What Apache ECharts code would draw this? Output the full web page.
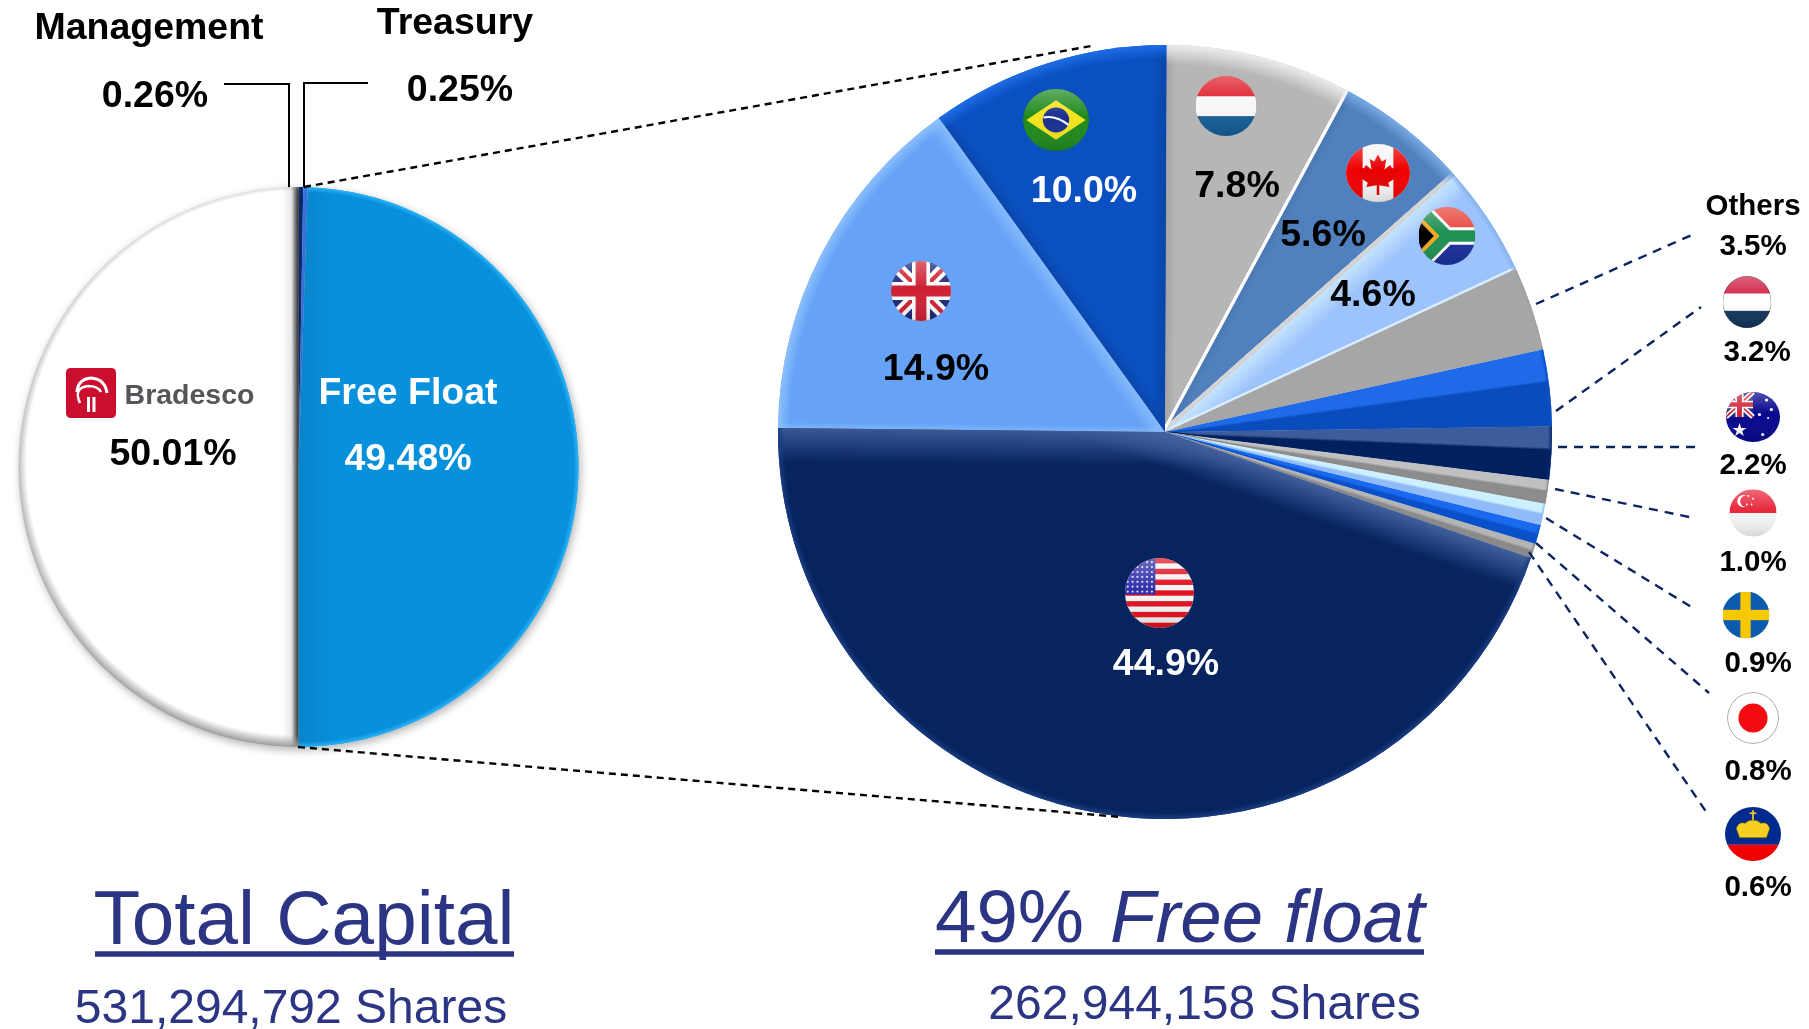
<!DOCTYPE html>
<html>
<head>
<meta charset="utf-8">
<title>Bradesco shareholders</title>
<script src="https://cdn.jsdelivr.net/npm/echarts@6/dist/echarts.min.js"></script>
<style>
  html, body { margin: 0; background: #fff; }
  #chart { width: 1809px; height: 1029px; }
</style>
</head>
<body>
<div id="chart"></div>
<script>
// total capital
const capitalNames = ['Bradesco', 'Management', 'Treasury', 'Free Float'];
const capitalShares = [50.01, 0.26, 0.25, 49.48];

// free float by country
const floatNames = ['United Kingdom', 'Brazil', 'Netherlands', 'Canada', 'South Africa', 'Others',
  'Luxembourg', 'Australia', 'Singapore', 'Sweden', 'Japan', 'Liechtenstein', 'United States'];
const floatShares = [14.9, 10.0, 7.8, 5.6, 4.6, 3.5, 3.2, 2.2, 1.0, 0.9, 0.8, 0.6, 44.9];

const titles = ['Total Capital', '49% ', 'Free float'];
const shareCounts = ['531,294,792 Shares', '262,944,158 Shares'];

// layout, px
const LEFT = { cx: 298.5, cy: 467, r: 280, start: 270 };
const RIGHT = { cx: 1165, cy: 432, r: 387, start: 179.4 };
const FONT = '"Liberation Sans", Arial, sans-serif';
const NAVY = '#2b3583';

const capitalLabelPos = [[173, 455], [155, 97], [460, 91], [408, 427]];
const floatLabelPos = [[936, 370], [1084, 192], [1237, 187], [1323, 236], [1373, 296], [1753, 247],
  [1757, 353], [1753, 466], [1753, 563], [1758, 664], [1758, 772], [1758, 888], [1166, 665]];

// base, start band, band width (0 = wedge), rim, rim width, end band, end width
const floatStyles = [
  { base: '#66a3f7', band: '#7db4fa', w: 6, rim: '#8cc0fc', rw: 12, end: '#8abcfc', ew: 16 },
  { base: '#0a50c0', band: '#0a46ac', w: 12, rim: '#1d6ce6', rw: 14, end: '#0a44a6', ew: 14 },
  { base: '#b6b6b6', band: '#a4a4a4', w: 10, rim: '#ececec', rw: 20, end: '#ffffff', ew: 3 },
  { base: '#5080bd', band: '#4a78b4', w: 8, rim: '#78aae6', rw: 14, end: '#d4d4d4', ew: 4 },
  { base: '#9cc3fb', band: '#c6e4ff', w: 22, rim: '#86b2ec', rw: 6, end: '#d8eeff', ew: 2 },
  { base: '#a6a6a6', band: '#a6a6a6', w: 2, rim: '#a0a0a0', rw: 3, end: '#a6a6a6', ew: 1 },
  { base: '#0a4cbc', band: '#1e6ae8', w: 0, rim: '#0b50c6', rw: 4, end: '#0a4cbc', ew: 1 },
  { base: '#00205f', band: '#3d5c9b', w: 0, rim: '#06296e', rw: 4, end: '#00205f', ew: 1 },
  { base: '#8c8c8c', band: '#c0c0c0', w: 0, rim: '#8c8c8c', rw: 3, end: '#8c8c8c', ew: 1 },
  { base: '#90bbf8', band: '#ccf0ff', w: 0, rim: '#90bbf8', rw: 3, end: '#90bbf8', ew: 1 },
  { base: '#0a50c8', band: '#1a6af0', w: 0, rim: '#0a50c8', rw: 3, end: '#0a50c8', ew: 1 },
  { base: '#8a8a8a', band: '#b4b4b4', w: 0, rim: '#8a8a8a', rw: 3, end: '#8a8a8a', ew: 1 },
  { base: '#07245f', band: '#42609e', w: 34, rim: '#1a3d82', rw: 6, end: '#42609e', ew: 34 }
];
const floatLabelColors = ['#000', '#fff', '#000', '#000', '#000', '#000', '#000', '#000', '#000', '#000', '#000', '#000', '#fff'];
const floatLabelSizes = [37.5, 37.5, 37.5, 37.5, 37.5, 29.5, 29.5, 29.5, 29.5, 29.5, 29.5, 29.5, 37.5];

const hexA = (hex, a) => {
  const n = parseInt(hex.slice(1), 16);
  return `rgba(${n >> 16},${(n >> 8) & 255},${n & 255},${a})`;
};

// linear gradient running across a slice edge, in page coordinates
const edgeGradient = (p, theta, sign, stops) => {
  const nx = -Math.sin(theta) * sign, ny = Math.cos(theta) * sign;
  return {
    type: 'linear', global: true,
    x: p.cx, y: p.cy, x2: p.cx + nx * p.r, y2: p.cy + ny * p.r,
    colorStops: stops
  };
};

// slice angles in screen radians (clockwise from +x)
const sliceAngles = (values, start) => {
  const total = values.reduce((a, b) => a + b, 0);
  let t = -start * Math.PI / 180;
  return values.map(v => {
    const a = t, sweep = v / total * Math.PI * 2;
    t += sweep;
    return { a, sweep, b: t };
  });
};

const floatAngles = sliceAngles(floatShares, RIGHT.start);

const floatBase = (i) => {
  const s = floatStyles[i], g = floatAngles[i];
  if (s.w === 0) {
    // narrow slice: the band is a wedge up to a ray through the centre
    const phi = g.a + g.sweep * 0.4;
    const nx = -Math.sin(phi), ny = Math.cos(phi);
    return {
      type: 'linear', global: true,
      x: RIGHT.cx - nx * RIGHT.r, y: RIGHT.cy - ny * RIGHT.r,
      x2: RIGHT.cx + nx * RIGHT.r, y2: RIGHT.cy + ny * RIGHT.r,
      colorStops: [
        { offset: 0, color: s.band }, { offset: 0.5, color: s.band },
        { offset: 0.503, color: s.base }, { offset: 1, color: s.base }
      ]
    };
  }
  return edgeGradient(RIGHT, g.a, 1, [
    { offset: 0, color: s.band }, { offset: s.w / RIGHT.r, color: s.base }, { offset: 1, color: s.base }
  ]);
};

const floatEnd = (i) => {
  const s = floatStyles[i], g = floatAngles[i];
  const hard = s.ew <= 4;
  return edgeGradient(RIGHT, g.b, -1, [
    { offset: 0, color: s.end },
    { offset: hard ? s.ew / RIGHT.r : 0.002, color: hard ? s.end : hexA(s.end, 0.85) },
    { offset: (s.ew + (hard ? 0.5 : 0)) / RIGHT.r, color: hexA(s.end, 0) },
    { offset: 1, color: hexA(s.end, 0) }
  ]);
};

// soft rim; lift moves the gradient centre up so the rim is heavier at the bottom
const rimGradient = (p, color, width, lift = 0) => ({
  type: 'radial', global: true, x: p.cx, y: p.cy - lift, r: p.r + lift,
  colorStops: [
    { offset: 0, color: hexA(color, 0) },
    { offset: 1 - width / (p.r + lift), color: hexA(color, 0) },
    { offset: 1, color: color }
  ]
});

// left pie colours
const capitalFills = [
  {
    type: 'linear', global: true, x: LEFT.cx - 16, y: 0, x2: LEFT.cx, y2: 0,
    colorStops: [
      { offset: 0, color: '#ffffff' }, { offset: 0.55, color: '#e8e8e8' },
      { offset: 0.8, color: '#808080' }, { offset: 1, color: '#333333' }
    ]
  },
  '#0d2a6e', '#3a78e6',
  {
    type: 'linear', global: true, x: LEFT.cx, y: 0, x2: LEFT.cx + 40, y2: 0,
    colorStops: [{ offset: 0, color: '#0a84cc' }, { offset: 1, color: '#0790dc' }]
  }
];
const capitalRims = [
  rimGradient(LEFT, '#9a9a9a', 12, 4),
  'rgba(0,0,0,0)', 'rgba(0,0,0,0)',
  rimGradient(LEFT, '#2ab4f7', 5)
];
const capitalLabelColors = ['#000', '#000', '#000', '#fff'];

const capitalPie = {
  type: 'pie', center: [LEFT.cx, LEFT.cy], radius: LEFT.r, startAngle: LEFT.start,
  clockwise: true, silent: true, z: 2,
  label: { show: true, position: 'inside', fontFamily: FONT, fontWeight: 'bold', fontSize: 37.5 },
  labelLine: { show: false },
  labelLayout: (p) => ({
    x: capitalLabelPos[p.dataIndex][0], y: capitalLabelPos[p.dataIndex][1],
    align: 'center', verticalAlign: 'middle'
  }),
  data: capitalNames.map((name, i) => ({
    name,
    value: capitalShares[i],
    itemStyle: { color: capitalFills[i], shadowBlur: 8, shadowColor: 'rgba(0,0,0,0.3)', shadowOffsetX: 2, shadowOffsetY: 3 },
    label: {
      color: capitalLabelColors[i],
      lineHeight: 66,
      formatter: name === 'Free Float' ? '{b}\n{c}%' : '{c}%'
    }
  }))
};

const capitalRimPie = {
  type: 'pie', center: [LEFT.cx, LEFT.cy], radius: LEFT.r, startAngle: LEFT.start,
  silent: true, z: 3, label: { show: false }, labelLine: { show: false },
  data: capitalNames.map((name, i) => ({ name, value: capitalShares[i], itemStyle: { color: capitalRims[i] } }))
};

const floatPie = {
  type: 'pie', center: [RIGHT.cx, RIGHT.cy], radius: RIGHT.r, startAngle: RIGHT.start,
  clockwise: true, silent: true, z: 2,
  label: { show: true, position: 'inside', fontFamily: FONT, fontWeight: 'bold', formatter: (p) => p.value.toFixed(1) + '%' },
  labelLine: { show: false },
  labelLayout: (p) => ({
    x: floatLabelPos[p.dataIndex][0], y: floatLabelPos[p.dataIndex][1],
    align: 'center', verticalAlign: 'middle'
  }),
  data: floatNames.map((name, i) => ({
    name,
    value: floatShares[i],
    itemStyle: { color: floatBase(i) },
    label: { color: floatLabelColors[i], fontSize: floatLabelSizes[i] }
  }))
};

// end edge and rim highlights sit on top of the base slices
const overlayPie = (z, colorOf) => ({
  type: 'pie', center: [RIGHT.cx, RIGHT.cy], radius: RIGHT.r, startAngle: RIGHT.start,
  silent: true, z, label: { show: false }, labelLine: { show: false },
  data: floatNames.map((name, i) => ({ name, value: floatShares[i], itemStyle: { color: colorOf(i) } }))
});

// flags, drawn as small inline svg
const flagUrl = (body, gloss = true) => 'data:image/svg+xml,' + encodeURIComponent(
  `<svg xmlns="http://www.w3.org/2000/svg" viewBox="0 0 100 100"><defs><clipPath id="c"><circle cx="50" cy="50" r="50"/></clipPath>` +
  `<linearGradient id="g" x1="0" y1="0" x2="0" y2="1"><stop offset="0" stop-color="#fff" stop-opacity=".3"/><stop offset=".45" stop-color="#fff" stop-opacity="0"/>` +
  `<stop offset="1" stop-color="#000" stop-opacity=".12"/></linearGradient></defs><g clip-path="url(#c)">${body}` +
  (gloss ? '<rect width="100" height="100" fill="url(#g)"/>' : '') + '</g></svg>');

const stripes = (a, b, c) => `<rect width="100" height="34" fill="${a}"/><rect y="34" width="100" height="33" fill="${b}"/><rect y="67" width="100" height="33" fill="${c}"/>`;
const unionJack = (cx, cy, s) => `<g transform="translate(${cx} ${cy}) scale(${s})"><rect x="-50" y="-50" width="100" height="100" fill="#1d2a78"/>` +
  `<path d="M-50-50L50 50M50-50L-50 50" stroke="#fff" stroke-width="20"/><path d="M-50-50L50 50M50-50L-50 50" stroke="#cf2034" stroke-width="7"/>` +
  `<path d="M0-50V50M-50 0H50" stroke="#fff" stroke-width="30"/><path d="M0-50V50M-50 0H50" stroke="#cf2034" stroke-width="18"/></g>`;

let usStars = '<rect width="44" height="52" fill="#2f2fa8"/>';
for (let y = 6; y < 50; y += 7) for (let x = 4; x < 44; x += 7) usStars += `<circle cx="${x}" cy="${y}" r="1.6" fill="#d8d8ff"/>`;
let usStripes = '<rect width="100" height="100" fill="#f4f4f4"/>';
for (let y = 0; y < 100; y += 15.4) usStripes += `<rect y="${y}" width="100" height="7.7" fill="#e01020"/>`;

const flags = [
  { name: 'uk', x: 921, y: 291, rx: 30, ry: 30, svg: unionJack(50, 50, 1) },
  { name: 'brazil', x: 1056, y: 120, rx: 33, ry: 31,
    svg: '<rect width="100" height="100" fill="#1f8a1c"/><path d="M50 18L95 50L50 82L5 50Z" fill="#f4e31e"/><circle cx="50" cy="50" r="20" fill="#1a2f8f"/><path d="M31 46Q50 42 69 58" stroke="#fff" stroke-width="3" fill="none"/>' },
  { name: 'netherlands', x: 1226, y: 106, rx: 30.5, ry: 30, svg: stripes('#e0202c', '#f8f8f8', '#125d98') },
  { name: 'canada', x: 1378, y: 173, rx: 32, ry: 29,
    svg: '<rect width="100" height="100" fill="#f6f6f6"/><rect width="26" height="100" fill="#f00000"/><rect x="74" width="26" height="100" fill="#f00000"/>' +
      '<path d="M50 18L56 30L63 26L60 44L69 36L72 42L82 40L78 52L82 55L66 67L68 74L52 71V88H48V71L32 74L34 67L18 55L22 52L18 40L28 42L31 36L40 44L37 26L44 30Z" fill="#e60000"/>' },
  { name: 'southafrica', x: 1447, y: 236, rx: 28.5, ry: 29,
    svg: '<rect width="100" height="50" fill="#e8453c"/><rect y="50" width="100" height="50" fill="#1a2f9c"/><path d="M0 0L50 50L0 100Z" fill="#000"/>' +
      '<path d="M0 0L50 50L0 100M50 50H100" stroke="#fff" stroke-width="30" fill="none"/><path d="M0 0L50 50L0 100M50 50H100" stroke="#1f8f52" stroke-width="20" fill="none"/><path d="M0 18L32 50L0 82" stroke="#f0a81e" stroke-width="7" fill="none"/>' },
  { name: 'luxembourg', x: 1747, y: 302, rx: 24.5, ry: 26,
    svg: stripes('#cf2042', '#ffffff', '#12355c') + '<circle cx="50" cy="50" r="49.5" fill="none" stroke="#333" stroke-width="1"/>' },
  { name: 'australia', x: 1753, y: 417, rx: 27, ry: 25,
    svg: '<rect width="100" height="100" fill="#06068e"/>' + unionJack(25, 25, 0.5) +
      '<path d="M25 62L28 72L38 72L30 78L33 88L25 82L17 88L20 78L12 72L22 72Z" fill="#fff"/><circle cx="62" cy="45" r="3" fill="#fff"/><circle cx="84" cy="35" r="3" fill="#fff"/><circle cx="78" cy="52" r="2" fill="#fff"/><circle cx="75" cy="16" r="3" fill="#fff"/><circle cx="68" cy="85" r="3" fill="#fff"/>' },
  { name: 'singapore', x: 1753, y: 513, rx: 23.7, ry: 23.7,
    svg: '<rect width="100" height="50" fill="#e8283c"/><rect y="50" width="100" height="50" fill="#f4f4f4"/><circle cx="30" cy="25" r="13" fill="#fff"/><circle cx="35" cy="25" r="12" fill="#e8283c"/><circle cx="40" cy="14" r="2" fill="#fff"/><circle cx="50" cy="20" r="2" fill="#fff"/><circle cx="47" cy="32" r="2" fill="#fff"/><circle cx="37" cy="32" r="2" fill="#fff"/>' },
  { name: 'sweden', x: 1746, y: 615, rx: 23.5, ry: 23.5, gloss: false,
    svg: '<rect width="100" height="100" fill="#0a5bb0"/><rect x="38" width="22" height="100" fill="#f8c800"/><rect y="39" width="100" height="22" fill="#f8c800"/>' },
  { name: 'japan', x: 1753, y: 718, rx: 26, ry: 26, gloss: false,
    svg: '<circle cx="50" cy="50" r="49" fill="#fff" stroke="#8a8a8a" stroke-width="1.5"/><circle cx="50" cy="50" r="28" fill="#f40b10"/>' },
  { name: 'liechtenstein', x: 1753, y: 834, rx: 28, ry: 27, gloss: false,
    svg: '<rect width="100" height="70" fill="#002b8e"/><rect y="70" width="100" height="30" fill="#f00000"/>' +
      '<path d="M26 57L20 40Q24 26 36 30Q42 24 50 24Q58 24 64 30Q76 26 80 40L74 57Z" fill="#f6d020" stroke="#5a4800" stroke-width="1"/><rect x="48.5" y="6" width="3" height="18" fill="#f6d020"/><rect x="44" y="10" width="12" height="3" fill="#f6d020"/>' },
  { name: 'us', x: 1159.5, y: 593, rx: 34.5, ry: 35, svg: usStripes + usStars }
];

const logoUrl = 'data:image/svg+xml,' + encodeURIComponent(
  '<svg xmlns="http://www.w3.org/2000/svg" viewBox="0 0 100 100"><rect width="100" height="100" rx="9" fill="#cc0e2e"/>' +
  '<path d="M22 48Q24 22 50 20Q78 22 82 50" stroke="#fff" stroke-width="6" fill="none"/><path d="M28 70Q14 40 44 36Q64 36 70 48" stroke="#fff" stroke-width="5" fill="none"/>' +
  '<rect x="42" y="58" width="6" height="30" fill="#fff"/><rect x="53" y="58" width="6" height="30" fill="#fff"/></svg>');

const text = (str, x, y, size, opt = {}) => ({
  type: 'text', x, y, z: 20, silent: true,
  style: {
    text: str, fill: opt.fill || '#000', align: opt.align || 'center', verticalAlign: 'middle',
    font: `${opt.style || 'normal'} ${opt.weight || 'bold'} ${size}px ${FONT}`
  }
});

const line = (points, stroke, width, dash) => ({
  type: 'polyline', z: 15, silent: true,
  shape: { points },
  style: { stroke, lineWidth: width, lineDash: dash || null, fill: null }
});

const DARK_DASH = [7, 5];
const NAVY_DASH = [9, 7];

const graphicElements = [
  // leader lines of the left pie
  line([[224, 84], [289, 84], [289, 187]], '#000', 2),
  line([[368, 83], [304, 83], [304, 187]], '#000', 2),
  // zoom lines between the pies
  line([[304, 187], [1091, 46]], '#000', 2.4, DARK_DASH),
  line([[298, 747], [1121, 817]], '#000', 2.4, DARK_DASH),
  // country leader lines
  line([[1536, 304], [1694, 234]], '#0c2461', 2.4, NAVY_DASH),
  line([[1556, 411], [1701, 307]], '#0c2461', 2.4, NAVY_DASH),
  line([[1558, 447], [1695, 447]], '#0c2461', 2.4, NAVY_DASH),
  line([[1555, 489], [1694, 518]], '#0c2461', 2.4, NAVY_DASH),
  line([[1546, 518], [1693, 608]], '#0c2461', 2.4, NAVY_DASH),
  line([[1536, 543], [1709, 693]], '#0c2461', 2.4, NAVY_DASH),
  line([[1529, 552], [1707, 813]], '#0c2461', 2.4, NAVY_DASH),

  text(capitalNames[1], 149, 29, 37.5),
  text(capitalNames[2], 455, 24, 37.5),
  text('Others', 1753, 207, 29.5),
  text(capitalNames[0], 189.5, 396, 28.5, { fill: '#55565a' }),
  { type: 'image', x: 66, y: 368, z: 20, silent: true, style: { image: logoUrl, width: 50, height: 50 } },

  // titles
  text(titles[0], 304, 923, 76.5, { weight: 'normal', fill: NAVY }),
  line([[95, 954], [514, 954]], NAVY, 5.5),
  text(titles[1], 935, 921, 74.5, { weight: 'normal', fill: NAVY, align: 'left' }),
  text(titles[2], 1110, 921, 74.5, { weight: 'normal', style: 'italic', fill: NAVY, align: 'left' }),
  line([[935, 952], [1424, 952]], NAVY, 5.5),
  text(shareCounts[0], 291, 1010, 48, { weight: 'normal', fill: NAVY }),
  text(shareCounts[1], 1204.5, 1006, 48, { weight: 'normal', fill: NAVY }),

  ...flags.map(f => ({
    type: 'image', x: f.x - f.rx, y: f.y - f.ry, z: 18, silent: true,
    style: { image: flagUrl(f.svg, f.gloss !== false), width: f.rx * 2, height: f.ry * 2 }
  }))
];

const chart = echarts.init(document.getElementById('chart'));
chart.setOption({
  animation: false,
  backgroundColor: '#fff',
  tooltip: { show: false },
  series: [
    capitalPie,
    capitalRimPie,
    floatPie,
    overlayPie(3, floatEnd),
    overlayPie(4, (i) => rimGradient(RIGHT, floatStyles[i].rim, floatStyles[i].rw))
  ],
  graphic: { elements: graphicElements }
});
window.addEventListener('resize', () => chart.resize());
</script>
</body>
</html>
